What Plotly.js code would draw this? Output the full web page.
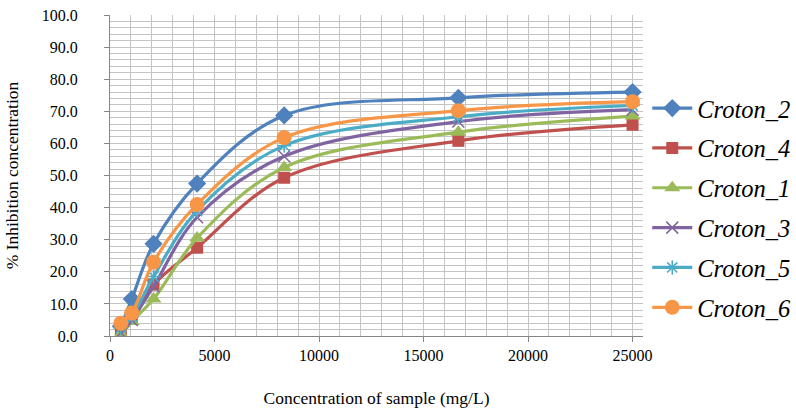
<!DOCTYPE html>
<html>
<head>
<meta charset="utf-8">
<script src="https://cdn.plot.ly/plotly-3.0.1.min.js"></script>
<style>html,body{margin:0;padding:0;background:#fff;}#chart{width:796px;height:412px;}</style>
</head>
<body>
<div id="chart"></div>
<script>
// Data
const concentration = [521, 1042, 2083, 4167, 8333, 16667, 25000];
const seriesNames = ["Croton_2", "Croton_4", "Croton_1", "Croton_3", "Croton_5", "Croton_6"];
const croton2 = [3.0, 11.5, 28.7, 47.5, 68.7, 74.2, 76.0];
const croton4 = [1.5, 5.5, 16.0, 27.5, 49.3, 60.8, 65.8];
const croton1 = [0.5, 4.5, 11.5, 30.5, 52.5, 63.5, 68.5];
const croton3 = [1.0, 5.0, 15.5, 37.0, 56.0, 66.8, 70.5];
const croton5 = [2.5, 6.0, 18.5, 39.0, 59.3, 68.3, 71.8];
const croton6 = [4.0, 7.2, 23.0, 41.0, 61.8, 70.2, 73.0];
const yTickVals = [0, 10, 20, 30, 40, 50, 60, 70, 80, 90, 100];
const xTickVals = [0, 5000, 10000, 15000, 20000, 25000];

const values = [croton2, croton4, croton1, croton3, croton5, croton6];
const colors = ["#4F81BD", "#C0504D", "#9BBB59", "#8064A2", "#4BACC6", "#F79646"];
const symbols = ["diamond", "square", "triangle-up", "x-thin-open", "asterisk-open", "circle"];
const sizes = [14, 12, 14, 12, 12, 15];

const traces = values.map((v, i) => ({
  x: concentration,
  y: v,
  name: seriesNames[i],
  legendgroup: "g" + i,
  type: "scatter",
  mode: "lines+markers",
  line: {color: colors[i], width: 3.2, shape: "spline", smoothing: 1},
  marker: {symbol: symbols[i], size: sizes[i], color: colors[i],
           line: {color: colors[i], width: (symbols[i].indexOf("open") >= 0) ? 1.5 : 0}}
}));

const font = "Liberation Serif";
const gridColor = "#c4c4c4";

const layout = {
  width: 796, height: 412,
  margin: {l: 110, r: 153, t: 15, b: 76, autoexpand: false},
  paper_bgcolor: "#fff", plot_bgcolor: "#fff",
  font: {family: font, size: 16, color: "#000"},
  showlegend: true,
  legend: {
    x: 1.008, xanchor: "left", y: 0.78, yanchor: "top",
    xref: "paper",
    font: {family: font, size: 24.5, color: "#000", style: "italic"},
    traceorder: "grouped", tracegroupgap: 5,
    itemwidth: 40, bgcolor: "rgba(0,0,0,0)"
  },
  xaxis: {
    range: [0, 25500],
    tickvals: xTickVals,
    tickformat: "d",
    ticks: "outside", ticklen: 5, tickcolor: "#868686",
    showline: true, linecolor: "#868686", linewidth: 1,
    showgrid: true, gridcolor: gridColor, gridwidth: 1,
    minor: {dtick: 1000, showgrid: true, gridcolor: gridColor, gridwidth: 1, ticks: ""},
    zeroline: false,
    automargin: false,
    tickfont: {family: font, size: 16},
    title: {text: "Concentration of sample (mg/L)", font: {family: font, size: 17.5}, standoff: 28}
  },
  yaxis: {
    range: [0, 100],
    tickvals: yTickVals,
    tickformat: ".1f",
    ticks: "outside", ticklen: 5, tickcolor: "#868686",
    ticklabelstandoff: 23,
    showline: true, linecolor: "#868686", linewidth: 1,
    showgrid: true, gridcolor: gridColor, gridwidth: 1,
    minor: {dtick: 2, showgrid: true, gridcolor: gridColor, gridwidth: 1, ticks: ""},
    zeroline: false,
    automargin: false,
    tickfont: {family: font, size: 16},
    title: {text: "% Inhibition concentration", font: {family: font, size: 17.5}, standoff: 18}
  }
};

Plotly.newPlot("chart", traces, layout, {staticPlot: true, displayModeBar: false});
</script>
</body>
</html>
